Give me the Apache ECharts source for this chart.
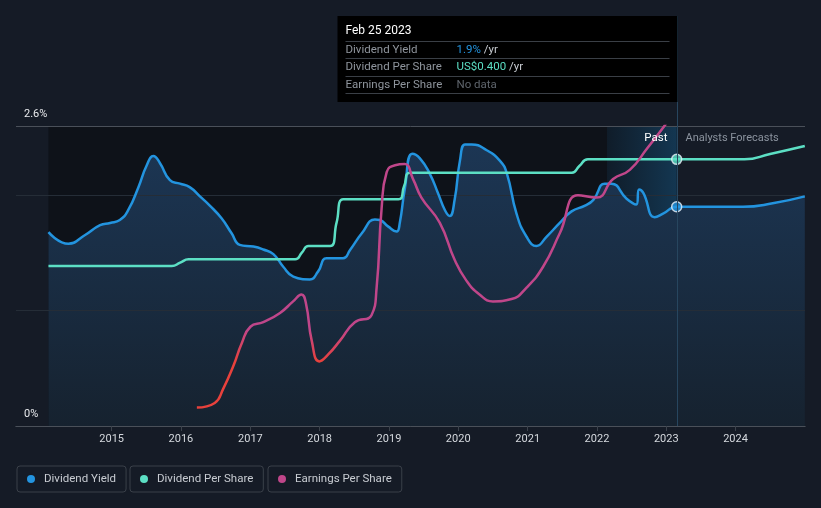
<!DOCTYPE html>
<html><head><meta charset="utf-8">
<script src="https://cdn.jsdelivr.net/npm/echarts@6/dist/echarts.min.js"></script>
<style>html,body{margin:0;padding:0;background:#151b26;}#c{width:821px;height:508px;}</style>
</head><body><div id="c"></div>
<script>
// ---- data ----
const dividendYield = [
 ['2014-02-02',1.68],['2014-05-18',1.58],['2014-08-14',1.655],['2014-11-01',1.74],['2014-12-24',1.76],
 ['2015-02-13',1.785],['2015-03-29',1.87],['2015-05-22',2.07],['2015-07-05',2.26],['2015-08-09',2.34],
 ['2015-09-12',2.28],['2015-11-04',2.13],['2015-12-27',2.10],['2016-02-16',2.07],['2016-04-10',1.99],
 ['2016-06-01',1.91],['2016-08-02',1.80],['2016-09-24',1.67],['2016-11-06',1.57],['2017-01-17',1.555],
 ['2017-03-10',1.53],['2017-05-02',1.49],['2017-06-23',1.38],['2017-08-15',1.295],['2017-11-10',1.27],
 ['2017-12-24',1.34],['2018-02-06',1.453],['2018-05-04',1.453],['2018-06-10',1.525],['2018-08-11',1.67],
 ['2018-10-19',1.79],['2018-11-14',1.785],['2018-12-27',1.73],['2019-02-10',1.685],['2019-02-27',1.76],
 ['2019-03-25',2.05],['2019-05-04',2.36],['2019-06-13',2.32],['2019-08-03',2.19],['2019-09-16',2.02],
 ['2019-10-23',1.87],['2019-11-17',1.82],['2019-12-13',1.96],['2020-01-10',2.30],['2020-02-06',2.44],
 ['2020-03-12',2.44],['2020-05-30',2.39],['2020-08-07',2.30],['2020-09-13',2.19],['2020-11-03',1.84],
 ['2020-12-26',1.64],['2021-02-16',1.56],['2021-04-10',1.64],['2021-06-19',1.76],['2021-08-20',1.86],
 ['2021-10-30',1.91],['2021-12-13',1.96],['2022-02-11',2.10],['2022-03-18',2.10],['2022-06-06',1.97],
 ['2022-07-27',1.92],['2022-08-11',2.05],['2022-09-02',2.02],['2022-11-01',1.81],['2022-12-15',1.84],
 ['2023-02-25',1.90],['2024-02-09',1.90],['2024-07-15',1.93],['2024-12-31',1.99]
];
const dividendPerShare = [
 ['2014-02-02',0.24],['2015-11-14',0.24],['2015-12-28',0.245],['2016-02-10',0.25],['2017-08-25',0.25],
 ['2017-09-29',0.26],['2017-11-03',0.27],['2018-02-25',0.27],['2018-03-31',0.305],['2018-05-05',0.34],
 ['2019-02-20',0.34],['2019-03-22',0.36],['2019-04-23',0.38],['2021-08-22',0.38],['2021-09-30',0.39],
 ['2021-11-14',0.40],['2023-02-25',0.40],['2024-02-17',0.40],['2024-07-01',0.408],['2024-12-31',0.42]
];
const earningsPerShare = [
 ['2016-03-25',0.08],['2016-06-27',0.10],['2016-08-10',0.16],['2016-10-03',0.26],['2016-11-17',0.36],
 ['2017-01-01',0.43],['2017-03-10',0.45],['2017-06-06',0.49],['2017-08-14',0.54],['2017-09-27',0.57],
 ['2017-10-21',0.53],['2017-11-20',0.37],['2017-12-30',0.28],['2018-02-15',0.31],['2018-04-18',0.37],
 ['2018-07-05',0.45],['2018-10-01',0.48],['2018-10-28',0.60],['2018-11-23',0.94],['2018-12-20',1.10],
 ['2019-02-02',1.13],['2019-03-25',1.135],['2019-05-08',1.07],['2019-06-21',0.99],['2019-09-26',0.88],
 ['2019-12-13',0.72],['2020-02-13',0.63],['2020-04-22',0.57],['2020-07-02',0.54],['2020-10-08',0.55],
 ['2020-12-26',0.60],['2021-03-23',0.69],['2021-06-19',0.835],['2021-09-23',1.00],['2021-12-30',0.99],
 ['2022-03-27',1.07],['2022-06-23',1.11],['2022-09-20',1.20],['2022-12-31',1.31]
];
const tickYears = [2015,2016,2017,2018,2019,2020,2021,2022,2023,2024];
const legendNames = ['Dividend Yield','Dividend Per Share','Earnings Per Share'];
const currentDate = '2023-02-25';
const currentLabel = 'Feb 25 2023';
const bandStart = '2022-02-23';
const xMin = '2013-08-15', xMax = '2025-01-01';

// ---- helpers / styles ----
const T = s => new Date(s + 'T00:00:00').getTime();
const toXY = arr => arr.map(d => [T(d[0]), d[1]]);
const C_DY = '#2394df', C_DPS = '#5cdfc4', C_EPS = '#c0468a', C_EPS_LOW = '#e8413c';
const FONT = 'Roboto, sans-serif';
const G = echarts.graphic;
const tickVals = tickYears.map(y => new Date(y,0,1).getTime());
const dyNow = dividendYield.find(d => d[0] === currentDate)[1];
const dpsNow = dividendPerShare.find(d => d[0] === currentDate)[1];

const chart = echarts.init(document.getElementById('c'), null, {renderer:'canvas'});
const smoothCfg = {smooth:0.5, symbol:'none', showSymbol:false};

chart.setOption({
  backgroundColor:'#151b26',
  animation:false,
  grid:{left:16, right:16, top:126, bottom:82},
  xAxis:[
    {type:'value', min:T(xMin), max:T(xMax), scale:true, z:5,
      axisLine:{show:true, lineStyle:{color:'#3b424b'}},
      axisTick:{show:true, length:5, lineStyle:{color:'#3b424b'}, customValues:tickVals},
      axisLabel:{color:'#d5d9de', fontSize:11, fontFamily:FONT, margin:8, customValues:tickVals,
        formatter:v => String(new Date(v).getFullYear())},
      splitLine:{show:false}},
    {type:'value', position:'top', min:T(xMin), max:T(xMax), scale:true, z:5,
      axisLine:{show:true, lineStyle:{color:'#4a5059'}}, axisTick:{show:false}, axisLabel:{show:false}, splitLine:{show:false}}
  ],
  yAxis:[
    {type:'value', min:0, max:2.6, interval:1, z:3.5,
      axisLine:{show:false}, axisTick:{show:false},
      axisLabel:{inside:true, margin:8, color:'#e8eaed', fontSize:11, fontFamily:FONT,
        verticalAlign:'bottom', padding:[0,0,6,0],
        formatter:v => (v === 0 ? '0%' : (Math.abs(v-2.6) < 1e-6 ? '2.6%' : ''))},
      splitLine:{show:true, lineStyle:{color:['#3b424b','#252d37','#252d37','#4a5059'], width:1}}},
    {type:'value', min:0, max:0.45, show:false, splitLine:{show:false}},
    {type:'value', min:0, max:1.3, show:false, splitLine:{show:false}}
  ],
  visualMap:{type:'continuous', show:false, seriesIndex:5, dimension:1, min:0.28, max:0.42,
    inRange:{color:[C_EPS_LOW, C_EPS]}, outOfRange:{color:C_EPS}},
  legend: legendNames.map((name,i) => ({
    data:[{name, itemStyle:{color:[C_DY,C_DPS,C_EPS][i]}}],
    left:[17,130,268][i], top:466, icon:'circle', itemWidth:8, itemHeight:8,
    borderColor:'#3a4049', borderWidth:1, borderRadius:3, padding:[6,10,6,10],
    textStyle:{color:'#c8ccd2', fontSize:11.5, fontFamily:FONT, padding:[0,0,0,4], lineHeight:14}
  })),
  series:[
    {name:'_past', type:'line', data:[], z:1, silent:true,
      markArea:{silent:true, itemStyle:{color:'#0e1219'}, data:[[{xAxis:T(dividendYield[0][0])},{xAxis:T(currentDate)}]]}},
    Object.assign({name:'Dividend Yield', type:'line', data:toXY(dividendYield), z:2, silent:true,
      lineStyle:{width:0}, itemStyle:{color:C_DY},
      areaStyle:{opacity:1, color:new G.LinearGradient(0,0,0,1,[{offset:0,color:'#1c3654'},{offset:1,color:'#16222f'}])}}, smoothCfg),
    {name:'_band', type:'line', data:[], z:3, silent:true,
      markArea:{silent:true, itemStyle:{color:new G.LinearGradient(0,0,1,0,[{offset:0,color:'rgba(30,120,185,0.10)'},{offset:1,color:'rgba(30,125,190,0.34)'}])},
        data:[[{xAxis:T(bandStart)},{xAxis:T(currentDate)}]]}},
    Object.assign({name:'Dividend Yield', type:'line', data:toXY(dividendYield), z:4,
      lineStyle:{width:2.5, color:C_DY}, itemStyle:{color:C_DY}}, smoothCfg),
    Object.assign({name:'Dividend Per Share', type:'line', yAxisIndex:1, data:toXY(dividendPerShare), z:4,
      lineStyle:{width:2.5, color:C_DPS}, itemStyle:{color:C_DPS}}, smoothCfg),
    Object.assign({name:'Earnings Per Share', type:'line', yAxisIndex:2, data:toXY(earningsPerShare), z:4,
      lineStyle:{width:2.5}, itemStyle:{color:C_EPS}}, smoothCfg),
    {name:'Dividend Yield', type:'scatter', data:[[T(currentDate), dyNow]], z:6, symbolSize:10,
      itemStyle:{color:C_DY, borderColor:'#e8f0f8', borderWidth:1.5}},
    {name:'Dividend Per Share', type:'scatter', yAxisIndex:1, data:[[T(currentDate), dpsNow]], z:6, symbolSize:10,
      itemStyle:{color:C_DPS, borderColor:'#e8f0f8', borderWidth:1.5}}
  ]
});

// ---- overlay: present line, tooltip box, Past / Forecast labels ----
const px = Math.round(chart.convertToPixel({xAxisIndex:0}, T(currentDate))) + 0.5;
const yBot = chart.convertToPixel({yAxisIndex:0}, 0);
const yTop = chart.convertToPixel({yAxisIndex:0}, 2.6);
const boxL = px - 340, boxT = 16;
const rows = [
  ['Dividend Yield', '{a|' + dyNow.toFixed(1) + '%} {u|/yr}'],
  ['Dividend Per Share', '{b|US$' + dpsNow.toFixed(3) + '} {u|/yr}'],
  ['Earnings Per Share', '{n|No data}']
];
const gfx = [
  {type:'line', z:10, shape:{x1:px, y1:boxT, x2:px, y2:yBot}, style:{stroke:'#27465f', lineWidth:1}},
  {type:'rect', z:11, shape:{x:boxL, y:boxT, width:340, height:86}, style:{fill:'#000'}},
  {type:'text', z:12, x:boxL+8, y:31, style:{text:currentLabel, fill:'#ffffff', font:'12px '+FONT, verticalAlign:'middle'}},
  {type:'text', z:12, x:px-10, y:yTop+12, style:{text:'Past', fill:'#ffffff', font:'11.5px '+FONT, align:'right', verticalAlign:'middle'}},
  {type:'text', z:12, x:px+8, y:yTop+12, style:{text:'Analysts Forecasts', fill:'#8b939e', font:'11px '+FONT, align:'left', verticalAlign:'middle'}}
];
[41.5, 58.5, 76.5, 93.5].forEach(y => gfx.push({type:'line', z:12, shape:{x1:boxL+8, y1:y, x2:px-8, y2:y}, style:{stroke:'#3a3f46', lineWidth:1}}));
rows.forEach((r,i) => {
  const y = 50 + i*17.5;
  gfx.push({type:'text', z:12, x:boxL+8, y, style:{text:r[0], fill:'#8f959d', font:'11.5px '+FONT, verticalAlign:'middle'}});
  gfx.push({type:'text', z:12, x:boxL+119, y, style:{text:r[1], verticalAlign:'middle', font:'11.5px '+FONT,
    rich:{a:{fill:C_DY, font:'11.5px '+FONT}, b:{fill:C_DPS, font:'11.5px '+FONT}, u:{fill:'#c8ccd2', font:'11.5px '+FONT}, n:{fill:'#5f656d', font:'11.5px '+FONT}}}});
});
chart.setOption({graphic:gfx});
</script></body></html>
